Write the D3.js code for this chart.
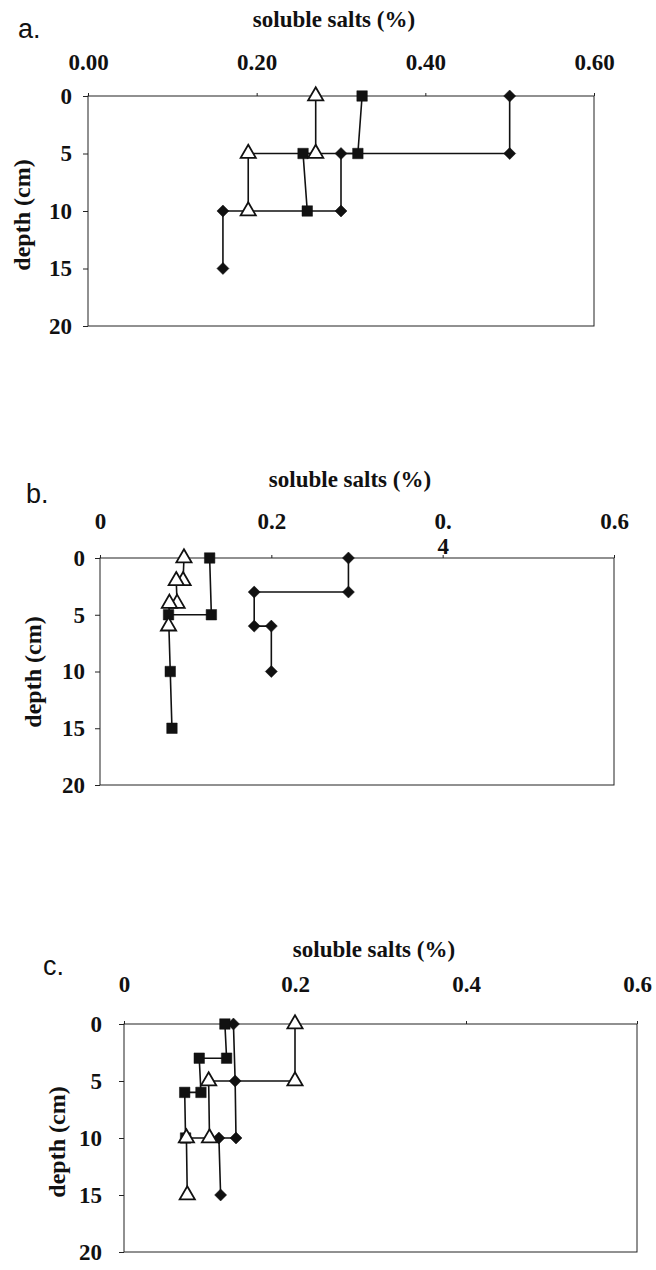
<!DOCTYPE html>
<html>
<head>
<meta charset="utf-8">
<script src="https://cdn.jsdelivr.net/npm/d3@7"></script>
<style>
  body { margin: 0; background: #fff; }
  svg text { fill: #111; }
</style>
</head>
<body>
<div class="chart"></div>
<script>
// x axis (soluble salts %) and y axis (depth cm) ticks
const saltTicks = [0, 0.2, 0.4, 0.6];
const depthTicks = [0, 5, 10, 15, 20];
const tickLabelsA = ["0.00", "0.20", "0.40", "0.60"];
const tickLabelsB = ["0", "0.2", "0.|4", "0.6"]; // "0.4" wraps in the original
const tickLabelsC = ["0", "0.2", "0.4", "0.6"];

// panel a
const aDiamondSalt = [0.50, 0.50, 0.30, 0.30, 0.16, 0.16];
const aDiamondDepth = [0, 5, 5, 10, 10, 15];
const aSquareSalt = [0.325, 0.32, 0.255, 0.26];
const aSquareDepth = [0, 5, 5, 10];
const aTriangleSalt = [0.27, 0.27, 0.19, 0.19];
const aTriangleDepth = [0, 5, 5, 10];

// panel b
const bDiamondSalt = [0.29, 0.29, 0.18, 0.18, 0.20, 0.20];
const bDiamondDepth = [0, 3, 3, 6, 6, 10];
const bSquareSalt = [0.128, 0.13, 0.08, 0.082, 0.084];
const bSquareDepth = [0, 5, 5, 10, 15];
const bTriangleSalt = [0.098, 0.097, 0.089, 0.09, 0.081, 0.08];
const bTriangleDepth = [0, 2, 2, 4, 4, 6];

// panel c
const cDiamondSalt = [0.128, 0.13, 0.131, 0.111, 0.113];
const cDiamondDepth = [0, 5, 10, 10, 15];
const cSquareSalt = [0.118, 0.12, 0.088, 0.09, 0.071, 0.072];
const cSquareDepth = [0, 3, 3, 6, 6, 10];
const cTriangleSalt = [0.20, 0.20, 0.099, 0.10, 0.073, 0.074];
const cTriangleDepth = [0, 5, 5, 10, 10, 15];

const zip = (s, d) => s.map((v, i) => ({ salt: v, depth: d[i] }));

// layout of each panel on the page
const panels = [
  {
    letter: "a.", letterX: 18, letterY: 38,
    left: 88, right: 594, top: 96, bottom: 326,
    titleX: 334, titleY: 27, tickGap: 26, yLabelGap: 16, yTitleX: 22, yTitleY: 215,
    labels: tickLabelsA,
    series: [
      { shape: "diamond", pts: zip(aDiamondSalt, aDiamondDepth) },
      { shape: "square", pts: zip(aSquareSalt, aSquareDepth) },
      { shape: "triangle", pts: zip(aTriangleSalt, aTriangleDepth) },
    ],
  },
  {
    letter: "b.", letterX: 26, letterY: 503,
    left: 100, right: 614, top: 558, bottom: 785,
    titleX: 350, titleY: 487, tickGap: 29, yLabelGap: 15, yTitleX: 33, yTitleY: 672,
    labels: tickLabelsB,
    series: [
      { shape: "diamond", pts: zip(bDiamondSalt, bDiamondDepth) },
      { shape: "square", pts: zip(bSquareSalt, bSquareDepth) },
      { shape: "triangle", pts: zip(bTriangleSalt, bTriangleDepth) },
    ],
  },
  {
    letter: "c.", letterX: 43, letterY: 975,
    left: 124, right: 637, top: 1024, bottom: 1252,
    titleX: 374, titleY: 957, tickGap: 32, yLabelGap: 22, yTitleX: 57, yTitleY: 1142,
    labels: tickLabelsC,
    series: [
      { shape: "diamond", pts: zip(cDiamondSalt, cDiamondDepth) },
      { shape: "square", pts: zip(cSquareSalt, cSquareDepth) },
      { shape: "triangle", pts: zip(cTriangleSalt, cTriangleDepth) },
    ],
  },
];

const serif = "'Liberation Serif', 'Times New Roman', serif";

const svg = d3
  .select(".chart")
  .append("svg")
  .attr("width", 656)
  .attr("height", 1270);

panels.forEach((p) => {
  const x = d3.scaleLinear().domain([0, 0.6]).range([p.left, p.right]);
  const y = d3.scaleLinear().domain([0, 20]).range([p.top, p.bottom]);
  const g = svg.append("g");

  // panel letter
  g.append("text")
    .attr("x", p.letterX)
    .attr("y", p.letterY)
    .style("font-family", "'Liberation Sans', Arial, sans-serif")
    .style("font-size", "27px")
    .text(p.letter);

  // axis title
  g.append("text")
    .attr("x", p.titleX)
    .attr("y", p.titleY)
    .attr("text-anchor", "middle")
    .style("font-family", serif)
    .style("font-weight", "bold")
    .style("font-size", "23px")
    .text("soluble salts (%)");

  // frame
  g.append("rect")
    .attr("x", p.left)
    .attr("y", p.top)
    .attr("width", p.right - p.left)
    .attr("height", p.bottom - p.top)
    .attr("fill", "none")
    .attr("stroke", "#222")
    .attr("stroke-width", 1);

  // x axis on top
  const xAxis = g
    .append("g")
    .attr("transform", `translate(0,${p.top})`)
    .call(
      d3.axisTop(x)
        .tickValues(saltTicks)
        .tickSize(3)
        .tickPadding(p.tickGap - 3)
        .tickFormat((d, i) => p.labels[i])
    );
  xAxis.select(".domain").remove();
  xAxis.selectAll(".tick line").attr("stroke", "#222");
  xAxis.selectAll("text")
    .style("font-family", serif)
    .style("font-weight", "bold")
    .style("font-size", "23px")
    .each(function () {
      const t = d3.select(this);
      const parts = t.text().split("|");
      if (parts.length > 1) {
        t.text(null);
        parts.forEach((s, k) => {
          t.append("tspan")
            .attr("x", 0)
            .attr("dy", k === 0 ? "0em" : "1.1em")
            .text(s);
        });
      }
    });

  // y axis
  const yAxis = g
    .append("g")
    .attr("transform", `translate(${p.left},0)`)
    .call(
      d3.axisLeft(y)
        .tickValues(depthTicks)
        .tickSize(5)
        .tickPadding(p.yLabelGap - 5)
    );
  yAxis.select(".domain").remove();
  yAxis.selectAll(".tick line").attr("stroke", "#222");
  yAxis.selectAll("text")
    .style("font-family", serif)
    .style("font-weight", "bold")
    .style("font-size", "23px");

  // y axis title
  g.append("text")
    .attr("transform", `translate(${p.yTitleX},${p.yTitleY}) rotate(-90)`)
    .attr("text-anchor", "middle")
    .attr("dy", "0.35em")
    .style("font-family", serif)
    .style("font-weight", "bold")
    .style("font-size", "24px")
    .text("depth (cm)");

  const line = d3
    .line()
    .x((d) => x(d.salt))
    .y((d) => y(d.depth));

  // profile lines
  g.selectAll(".profile")
    .data(p.series)
    .join("path")
    .attr("class", "profile")
    .attr("d", (s) => line(s.pts))
    .attr("fill", "none")
    .attr("stroke", "#111")
    .attr("stroke-width", 1.6);

  // markers
  p.series.forEach((s) => {
    let sym, fill, rot = 0;
    if (s.shape === "diamond") {
      sym = d3.symbol().type(d3.symbolSquare).size(72);
      fill = "#111";
      rot = 45;
    } else if (s.shape === "square") {
      sym = d3.symbol().type(d3.symbolSquare).size(110);
      fill = "#111";
    } else {
      sym = d3.symbol().type(d3.symbolTriangle).size(100);
      fill = "#fff";
    }
    g.selectAll(null)
      .data(s.pts)
      .join("path")
      .attr("d", sym)
      .attr("transform", (d) => `translate(${x(d.salt)},${y(d.depth)}) rotate(${rot})`)
      .attr("fill", fill)
      .attr("stroke", "#111")
      .attr("stroke-width", s.shape === "triangle" ? 1.8 : 0.5);
  });
});
</script>
</body>
</html>
